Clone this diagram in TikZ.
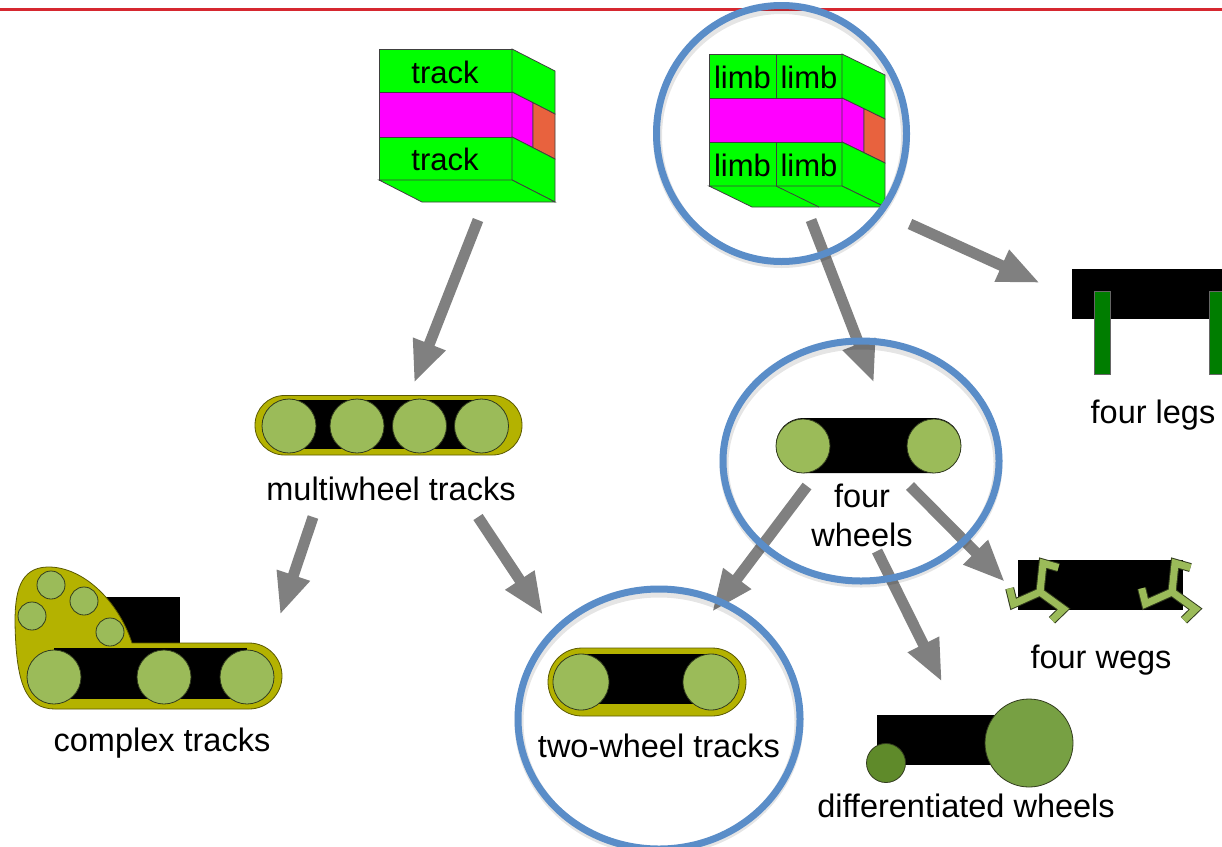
\documentclass[tikz,border=0pt]{standalone}
\usepackage{fontspec}
\setmainfont{Liberation Sans}
\usetikzlibrary{arrows.meta}
\definecolor{cubegreen}{RGB}{0,255,0}
\definecolor{cubemag}{RGB}{255,0,255}
\definecolor{cubered}{RGB}{232,98,62}
\definecolor{trackyellow}{RGB}{180,178,0}
\definecolor{trackedge}{RGB}{90,88,0}
\definecolor{wheelgreen}{RGB}{155,187,89}
\definecolor{wheeledge}{RGB}{50,60,30}
\definecolor{leggreen}{RGB}{0,125,0}
\definecolor{smallwheel}{RGB}{95,138,42}
\definecolor{bigwheel}{RGB}{119,160,67}
\definecolor{ringblue}{RGB}{90,141,200}
\definecolor{arrowgray}{RGB}{128,128,128}
\definecolor{topred}{RGB}{214,40,48}
\tikzset{
  face/.style={draw=black!75, line width=0.8pt},
  track/.style={fill=trackyellow, draw=trackedge, line width=0.8pt},
  band/.style={fill=black},
  wheel/.style={fill=wheelgreen, draw=wheeledge, line width=0.8pt},
  flow/.style={draw=arrowgray, line width=11pt, -{Triangle[length=42pt,width=32pt]}},
  ring/.style={draw=ringblue, line width=7pt},
  ringshade/.style={draw=black, opacity=0.10, line width=9pt},
  label/.style={inner sep=0pt, font=\fontsize{32.5}{38}\selectfont},
  cubelabel/.style={inner sep=0pt, font=\fontsize{31}{36}\selectfont},
  % three-spoked wheel-leg; each spoke ends in a short bent foot
  wheg/.pic={
    \draw[draw=wheeledge, line width=9pt, line join=miter, line cap=butt]
      (0,0) -- (84:29) -- ++(-16:16)
      (0,0) -- (204:29) -- ++(104:16)
      (0,0) -- (324:29) -- ++(224:16);
    \draw[draw=wheelgreen, line width=7pt, line join=miter, line cap=butt]
      (0,0) -- (84:29) -- ++(-16:16)
      (0,0) -- (204:29) -- ++(104:16)
      (0,0) -- (324:29) -- ++(224:16);
  }
}
\begin{document}
\begin{tikzpicture}[x=1pt, y=-1pt]
\useasboundingbox (0,0) rectangle (1222,846);
\fill[white] (0,0) rectangle (1222,846);

% rule along the top edge
\draw[topred, line width=3pt] (0,9) -- (1222,9);

% ---- track block ----
\filldraw[face, fill=cubegreen] (379,49) rectangle (512,92);
\filldraw[face, fill=cubemag] (379,92) rectangle (512,137);
\filldraw[face, fill=cubegreen] (379,137) rectangle (512,180);
\filldraw[face, fill=cubegreen] (512,49) -- (555,71) -- (555,114) -- (512,92) -- cycle;
\filldraw[face, fill=cubemag] (512,92) -- (533,102.7) -- (533,147.7) -- (512,137) -- cycle;
\filldraw[face, fill=cubered] (533,102.7) -- (555,114) -- (555,159) -- (533,147.7) -- cycle;
\filldraw[face, fill=cubegreen] (512,137) -- (555,159) -- (555,202) -- (512,180) -- cycle;
\filldraw[face, fill=cubegreen] (379,180) -- (512,180) -- (555,202) -- (422,202) -- cycle;
\node[cubelabel] (trackA) at (445,72) {track};
\node[cubelabel] (trackB) at (445,159) {track};

% ---- limb block ----
\filldraw[face, fill=cubegreen] (709,54) rectangle (776,98);
\filldraw[face, fill=cubegreen] (776,54) rectangle (842,98);
\filldraw[face, fill=cubemag] (709,98) rectangle (842,142);
\filldraw[face, fill=cubegreen] (709,142) rectangle (776,186);
\filldraw[face, fill=cubegreen] (776,142) rectangle (842,186);
\filldraw[face, fill=cubegreen] (842,54) -- (885,75) -- (885,119) -- (842,98) -- cycle;
\filldraw[face, fill=cubemag] (842,98) -- (864,108.7) -- (864,152.7) -- (842,142) -- cycle;
\filldraw[face, fill=cubered] (864,108.7) -- (885,119) -- (885,163) -- (864,152.7) -- cycle;
\filldraw[face, fill=cubegreen] (842,142) -- (885,163) -- (885,207) -- (842,186) -- cycle;
\filldraw[face, fill=cubegreen] (709,186) -- (842,186) -- (885,207) -- (752,207) -- cycle;
\draw[face] (776,186) -- (819,207);
\node[cubelabel] (limbA) at (742.5,77) {limb};
\node[cubelabel] (limbB) at (809,77) {limb};
\node[cubelabel] (limbC) at (742.5,165) {limb};
\node[cubelabel] (limbD) at (809,165) {limb};

% ---- multiwheel tracks ----
\filldraw[track, rounded corners=29.5pt] (255,395.5) rectangle (522,455);
\fill[band] (289,399.5) rectangle (482,448.5);
\foreach \cx in {289,357,419.5,481.5} \filldraw[wheel] (\cx,426) circle (27);
\node[label] (multi) at (391,489) {multiwheel tracks};

% ---- complex tracks ----
\fill[band] (100,597) rectangle (180,646);
\filldraw[track] (55,709) -- (249,709) arc[start angle=90, end angle=-90, radius=33] -- (132,643)
  .. controls (118,600) and (82,566) .. (47,567)
  .. controls (20,568) and (15,592) .. (15,622)
  .. controls (16,682) and (25,709) .. (55,709) -- cycle;
\fill[band] (54,648) rectangle (247,699);
\foreach \cx in {54,164,247} \filldraw[wheel] (\cx,677) circle (27);
\filldraw[wheel] (51,585) circle (14);
\filldraw[wheel] (84,601) circle (14);
\filldraw[wheel] (32,616) circle (14);
\filldraw[wheel] (110,632) circle (14);
\node[label] (complex) at (162,743) {complex tracks};

% ---- two-wheel tracks ----
\filldraw[track, rounded corners=34pt] (548,648) rectangle (746,716);
\fill[band] (581,654) rectangle (711,704);
\filldraw[wheel] (581,682) circle (28);
\filldraw[wheel] (711,682) circle (28);
\node[label] (twowheel) at (659,746) {two-wheel tracks};

% ---- four wheels ----
\fill[band, rounded corners=27pt] (776,418) rectangle (961,473);
\filldraw[wheel] (803,446) circle (27);
\filldraw[wheel] (934,446) circle (27);
\node[label, align=center] (fourwheels) at (862,515) {four\\[1pt]wheels};

% ---- four legs ----
\fill[band] (1072,269) rectangle (1232,319);
\filldraw[fill=leggreen, draw=black!60, line width=0.6pt] (1094,291) rectangle (1110,374);
\filldraw[fill=leggreen, draw=black!60, line width=0.6pt] (1209,291) rectangle (1225,374);
\node[label] (fourlegs) at (1153,415) {four legs};

% ---- four wegs ----
\fill[band] (1018,560) rectangle (1183,610);
\pic[yscale=-1] at (1040,592) {wheg};
\pic[yscale=-1] at (1172,592) {wheg};
\node[label] (fourwegs) at (1101,660) {four wegs};

% ---- differentiated wheels ----
\fill[band] (877,715) rectangle (1000,765);
\filldraw[fill=smallwheel, draw=wheeledge, line width=0.8pt] (886,763) circle (19.5);
\filldraw[fill=bigwheel, draw=wheeledge, line width=0.8pt] (1029,743) circle (44);
\node[label] (diffwheels) at (966,806) {differentiated wheels};

% ---- arrow end points ----
\coordinate (a1s) at (478,220);  \coordinate (a1e) at (414,383);
\coordinate (a2s) at (313,517);  \coordinate (a2e) at (280,615);
\coordinate (a3s) at (478,517);  \coordinate (a3e) at (543,615);
\coordinate (a4s) at (811,220);  \coordinate (a4e) at (874,383);
\coordinate (a5s) at (910,224);  \coordinate (a5e) at (1040,283);
\coordinate (a6s) at (807,486);  \coordinate (a6e) at (712,612);
\coordinate (a7s) at (910,486);  \coordinate (a7e) at (1005,582);
\coordinate (a8s) at (877,551);  \coordinate (a8e) at (942,682);
\draw[flow] (a1s) -- (a1e);
\draw[flow] (a2s) -- (a2e);
\draw[flow] (a3s) -- (a3e);
\draw[flow] (a4s) -- (a4e);
\draw[flow] (a5s) -- (a5e);
\draw[flow] (a6s) -- (a6e);
\draw[flow] (a7s) -- (a7e);
\draw[flow] (a8s) -- (a8e);

% ---- highlight rings ----
\draw[ringshade] (781.5,136.5) ellipse [x radius=124, y radius=127];
\draw[ringshade] (861,464) ellipse [x radius=137, y radius=119];
\draw[ringshade] (659,722) ellipse [x radius=140, y radius=129];
\draw[ring] (781.5,133.5) ellipse [x radius=125, y radius=128];
\draw[ring] (861,461) ellipse [x radius=138, y radius=120];
\draw[ring] (659,719) ellipse [x radius=141, y radius=130];
\end{tikzpicture}
\end{document}
